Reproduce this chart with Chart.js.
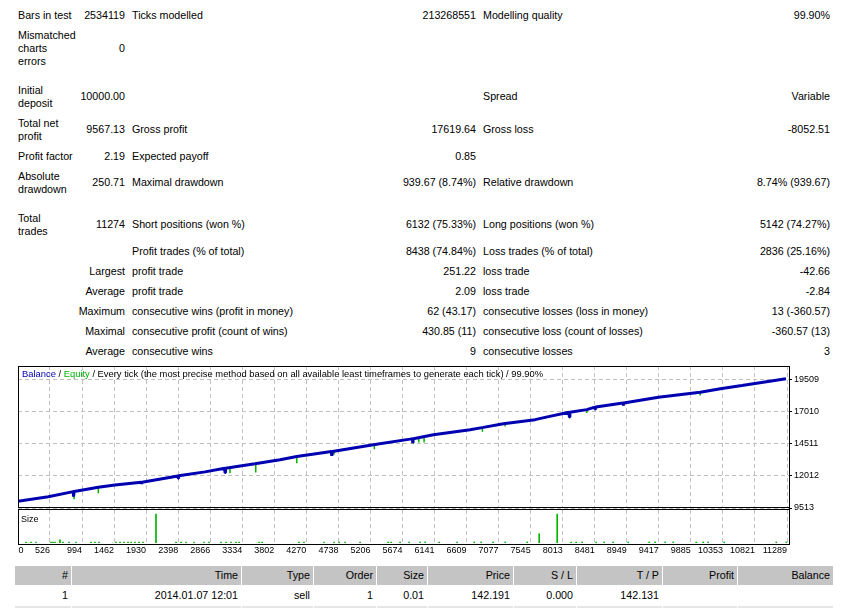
<!DOCTYPE html>
<html>
<head>
<meta charset="utf-8">
<title>Strategy Tester Report</title>
<script src="https://cdn.jsdelivr.net/npm/chart.js@4.4.1/dist/chart.umd.min.js"></script>
<style>
  html, body { margin: 0; padding: 0; background: #fff; }
  body {
    position: relative; width: 841px; height: 608px; overflow: hidden;
    font-family: "Liberation Sans", Arial, sans-serif; font-size: 10.7px; color: #000;
  }
  .t { position: absolute; white-space: nowrap; line-height: 13px; }
  .frame { position: absolute; box-sizing: border-box; border: 1px solid #000; pointer-events: none; }
  .chartbox { position: absolute; left: 0; width: 841px; }
  .note { position: absolute; white-space: nowrap; font-size: 9px; line-height: 11px; }
  .cell {
    position: absolute; box-sizing: border-box; text-align: right; padding-right: 3px;
    white-space: nowrap; overflow: hidden;
  }
</style>
</head>
<body>

<div id="report"></div>

<div class="chartbox" style="top:358px;height:158px"><canvas id="balanceCanvas"></canvas></div>
<div class="chartbox" style="top:505px;height:59px"><canvas id="sizeCanvas"></canvas></div>

<div class="frame" style="left:18px;top:366px;width:772px;height:142px"></div>
<div class="frame" style="left:18px;top:509px;width:772px;height:36px"></div>

<div class="note" style="left:22px;top:367.8px;font-size:9.4px">
  <span style="color:#0000b0">Balance</span> / <span style="color:#00b400">Equity</span> / Every tick (the most precise method based on all available least timeframes to generate each tick) / 99.90%
</div>
<div class="note" style="left:21px;top:513.5px">Size</div>

<div id="trades"></div>

<script>
// ---- Data ----

// Balance curve: trade number -> balance
const balanceTrades = [0, 501, 866, 870, 880, 1232, 1475, 1860, 1865, 1870,
  2395, 2400, 2405, 2790, 3078, 3082, 3090, 3520, 3885, 4130,
  4636, 4641, 4650, 5248, 5784, 5820, 5824, 5832, 6125, 6661,
  6855, 7147, 7610, 7756, 8105, 8111, 8118, 8365, 8482, 8487,
  8495, 8895, 8900, 8908, 9412, 10021, 10338, 10630, 11274];
const balanceValues = [10000, 10395, 10786, 10395, 10795, 11122, 11309, 11510, 11387, 11515,
  12010, 11824, 12015, 12324, 12600, 12270, 12610, 12949, 13261, 13519,
  13905, 13574, 13912, 14433, 14870, 14900, 14558, 14905, 15214, 15604,
  15784, 16073, 16385, 16564, 16960, 16588, 16965, 17166, 17365, 17213,
  17372, 17678, 17478, 17685, 18126, 18517, 18806, 19040, 19567];

// Equity drops below the balance line
const spikeTrades = [877, 1232, 3155, 3531, 4130, 4674, 5263, 5833, 5912, 5989, 6841, 7172, 7756, 8365, 10021];
const spikeTops   = [10790, 11122, 12650, 12955, 13519, 13915, 14445, 14900, 14990, 15070, 15770, 16090, 16564, 17166, 18517];
const spikeLows   = [10185, 10653, 12215, 12270, 12996, 13652, 14089, 14511, 14612, 14612, 15448, 15862, 16432, 16900, 18259];

// Lot size per trade
const sizeTrades = [175, 249, 322, 541, 570, 599, 672, 716, 804, 906,
  1125, 1183, 1242, 1490, 1549, 1607, 1666, 1710, 1768, 1826,
  1885, 2074, 2366, 2439, 2512, 2629, 2775, 2849, 3024, 3097,
  3170, 3243, 3287, 3579, 3623, 4163, 4236, 4529, 4675, 4748,
  4836, 5055, 5464, 5508, 5639, 5771, 5932, 6005, 6209, 6472,
  6721, 6823, 6998, 7174, 7495, 7670, 7933, 8137, 8210, 8298,
  8502, 8619, 8751, 8970, 9277, 9364, 9510, 9627, 9963, 10065,
  10138, 10372, 11132, 11278];
const sizeLots = [0.01, 0.01, 0.01, 0.01, 0.01, 0.01, 0.03, 0.01, 0.01, 0.01,
  0.01, 0.01, 0.01, 0.01, 0.01, 0.01, 0.01, 0.01, 0.01, 0.01,
  0.01, 0.28, 0.01, 0.01, 0.01, 0.01, 0.01, 0.01, 0.01, 0.01,
  0.01, 0.01, 0.01, 0.01, 0.01, 0.01, 0.01, 0.01, 0.01, 0.01,
  0.01, 0.01, 0.01, 0.01, 0.01, 0.01, 0.01, 0.01, 0.01, 0.01,
  0.01, 0.01, 0.01, 0.01, 0.01, 0.09, 0.28, 0.01, 0.01, 0.01,
  0.01, 0.01, 0.01, 0.01, 0.01, 0.01, 0.01, 0.01, 0.01, 0.01,
  0.01, 0.01, 0.01, 0.01];

// Axis tick labels
const xTickLabels = ['0', '526', '994', '1462', '1930', '2398', '2866', '3334', '3802', '4270', '4738',
  '5206', '5674', '6141', '6609', '7077', '7545', '8013', '8481', '8949', '9417', '9885',
  '10353', '10821', '11289'];
const yTickValues = [9513, 12012, 14511, 17010, 19509];

// Report table text
const reportRows = [
  { y: 15, a: 'Bars in test', av: '2534119', b: 'Ticks modelled', bv: '213268551', c: 'Modelling quality', cv: '99.90%' },
  { y: 48.5, a: ['Mismatched', 'charts', 'errors'], av: '0' },
  { y: 96.5, a: ['Initial', 'deposit'], av: '10000.00', c: 'Spread', cv: 'Variable' },
  { y: 129.5, a: ['Total net', 'profit'], av: '9567.13', b: 'Gross profit', bv: '17619.64', c: 'Gross loss', cv: '-8052.51' },
  { y: 156, a: 'Profit factor', av: '2.19', b: 'Expected payoff', bv: '0.85' },
  { y: 182.5, a: ['Absolute', 'drawdown'], av: '250.71', b: 'Maximal drawdown', bv: '939.67 (8.74%)', c: 'Relative drawdown', cv: '8.74% (939.67)' },
  { y: 224.5, a: ['Total', 'trades'], av: '11274', b: 'Short positions (won %)', bv: '6132 (75.33%)', c: 'Long positions (won %)', cv: '5142 (74.27%)' },
  { y: 251.5, b: 'Profit trades (% of total)', bv: '8438 (74.84%)', c: 'Loss trades (% of total)', cv: '2836 (25.16%)' },
  { y: 271, ar: 'Largest', b: 'profit trade', bv: '251.22', c: 'loss trade', cv: '-42.66' },
  { y: 291, ar: 'Average', b: 'profit trade', bv: '2.09', c: 'loss trade', cv: '-2.84' },
  { y: 311, ar: 'Maximum', b: 'consecutive wins (profit in money)', bv: '62 (43.17)', c: 'consecutive losses (loss in money)', cv: '13 (-360.57)' },
  { y: 331, ar: 'Maximal', b: 'consecutive profit (count of wins)', bv: '430.85 (11)', c: 'consecutive loss (count of losses)', cv: '-360.57 (13)' },
  { y: 351, ar: 'Average', b: 'consecutive wins', bv: '9', c: 'consecutive losses', cv: '3' }
];

const tradeHeader = ['#', 'Time', 'Type', 'Order', 'Size', 'Price', 'S / L', 'T / P', 'Profit', 'Balance'];
const tradeRow = ['1', '2014.01.07 12:01', 'sell', '1', '0.01', '142.191', '0.000', '142.131', '', ''];

// ---- Layout / style ----
const PAGE_W = 841;
const LINE_H = 13;
const CAP_MID = 6.4;          // caps centre below the top of a 13px line
const COLS = { a: 18, av: 125, b: 132, bv: 476, c: 483, cv: 830 };
const CELL_EDGES = [15, 72, 242, 314, 377, 428, 514, 577, 663, 738, 834];

const BALANCE_BLUE = '#0000b0';
const EQUITY_GREEN = '#00b400';
const GRID_GRAY = '#c0c0c0';
const X_MIN = 59, X_MAX = 11318;
const Y_MIN = 9513, Y_MAX = 20559;
const ZERO_LABEL_VALUE = 139;  // "0" label sits just inside the left edge

// ---- Report text ----
const report = document.getElementById('report');

function addText(text, x, yMid, alignRight) {
    const lines = Array.isArray(text) ? text : [text];
    const el = document.createElement('div');
    el.className = 't';
    lines.forEach((line, i) => {
        if (i > 0) el.appendChild(document.createElement('br'));
        el.appendChild(document.createTextNode(line));
    });
    el.style.top = (yMid - CAP_MID - (LINE_H / 2) * (lines.length - 1)) + 'px';
    if (alignRight) {
        el.style.right = (PAGE_W - x) + 'px';
        el.style.textAlign = 'right';
    } else {
        el.style.left = x + 'px';
    }
    report.appendChild(el);
}

reportRows.forEach(row => {
    if (row.a) addText(row.a, COLS.a, row.y, false);
    if (row.ar) addText(row.ar, COLS.av, row.y, true);
    if (row.av) addText(row.av, COLS.av, row.y, true);
    if (row.b) addText(row.b, COLS.b, row.y, false);
    if (row.bv) addText(row.bv, COLS.bv, row.y, true);
    if (row.c) addText(row.c, COLS.c, row.y, false);
    if (row.cv) addText(row.cv, COLS.cv, row.y, true);
});

// ---- Trades table ----
const trades = document.getElementById('trades');

function addRow(cells, top, height, bg) {
    for (let i = 0; i < CELL_EDGES.length - 1; i++) {
        const el = document.createElement('div');
        el.className = 'cell';
        el.style.left = CELL_EDGES[i] + 'px';
        el.style.width = (CELL_EDGES[i + 1] - CELL_EDGES[i] - 1) + 'px';
        el.style.top = top + 'px';
        el.style.height = height + 'px';
        el.style.lineHeight = height + 'px';
        if (bg) el.style.background = bg;
        el.textContent = cells ? cells[i] : '';
        trades.appendChild(el);
    }
}

addRow(tradeHeader, 566, 19, '#c4c4c4');
addRow(tradeRow, 585, 21, null);
addRow(null, 606, 19, '#e6e6e6');

// ---- Charts ----
Chart.defaults.font.family = '"Liberation Sans", Arial, sans-serif';
Chart.defaults.font.size = 9;
Chart.defaults.color = '#000';

const balancePoints = balanceTrades.map((t, i) => ({ x: t, y: balanceValues[i] }));
const equityPoints = spikeTrades.flatMap((t, i) => [
    { x: t, y: spikeTops[i] },
    { x: t, y: spikeLows[i] },
    { x: t, y: null }
]);
const sizePoints = sizeTrades.map((t, i) => ({ x: t, y: sizeLots[i] }));

function tradeTicks(scale) {
    scale.ticks = xTickLabels.map((l, i) => ({ value: i === 0 ? ZERO_LABEL_VALUE : Number(l) }));
}
const xGridColor = ctx => ctx.index === 0 ? 'rgba(0,0,0,0)' : GRID_GRAY;

new Chart(document.getElementById('balanceCanvas'), {
    type: 'line',
    data: {
        datasets: [
            {
                label: 'Balance',
                data: balancePoints,
                borderColor: BALANCE_BLUE,
                borderWidth: 3,
                borderJoinStyle: 'bevel',
                pointRadius: 0,
                tension: 0
            },
            {
                label: 'Equity',
                data: equityPoints,
                borderColor: EQUITY_GREEN,
                borderWidth: 1.5,
                pointRadius: 0,
                spanGaps: false
            }
        ]
    },
    options: {
        responsive: true,
        maintainAspectRatio: false,
        animation: false,
        devicePixelRatio: 1,
        layout: { padding: { left: 18, top: 8, right: 0, bottom: 8 } },
        plugins: { legend: { display: false }, tooltip: { enabled: false } },
        scales: {
            x: {
                type: 'linear',
                min: X_MIN,
                max: X_MAX,
                afterBuildTicks: tradeTicks,
                afterFit: s => { s.height = 0; },
                ticks: { display: false },
                grid: { color: xGridColor, drawTicks: false },
                border: { display: false, dash: [4, 3] }
            },
            y: {
                position: 'right',
                min: Y_MIN,
                max: Y_MAX,
                afterBuildTicks: s => { s.ticks = yTickValues.map(v => ({ value: v })); },
                afterFit: s => { s.width = 52; },
                ticks: { padding: 2, callback: v => String(v) },
                grid: { color: GRID_GRAY, tickColor: '#000', tickLength: 3 },
                border: { display: false, dash: [4, 3] }
            }
        }
    }
});

new Chart(document.getElementById('sizeCanvas'), {
    type: 'bar',
    data: {
        datasets: [{
            label: 'Size',
            data: sizePoints,
            backgroundColor: EQUITY_GREEN,
            barThickness: 1
        }]
    },
    options: {
        responsive: true,
        maintainAspectRatio: false,
        animation: false,
        devicePixelRatio: 1,
        layout: { padding: { left: 18, top: 5, right: 52, bottom: 0 } },
        plugins: { legend: { display: false }, tooltip: { enabled: false } },
        scales: {
            x: {
                type: 'linear',
                min: X_MIN,
                max: X_MAX,
                offset: false,
                afterBuildTicks: tradeTicks,
                afterFit: s => { s.height = 21; },
                ticks: {
                    align: 'end',
                    padding: 2.5,
                    autoSkip: false,
                    maxRotation: 0,
                    callback: (v, i) => xTickLabels[i]
                },
                grid: { color: xGridColor, drawTicks: false, offset: false },
                border: { display: false, dash: [4, 3] }
            },
            y: {
                display: false,
                min: 0,
                max: 0.32
            }
        }
    }
});
</script>
</body>
</html>
